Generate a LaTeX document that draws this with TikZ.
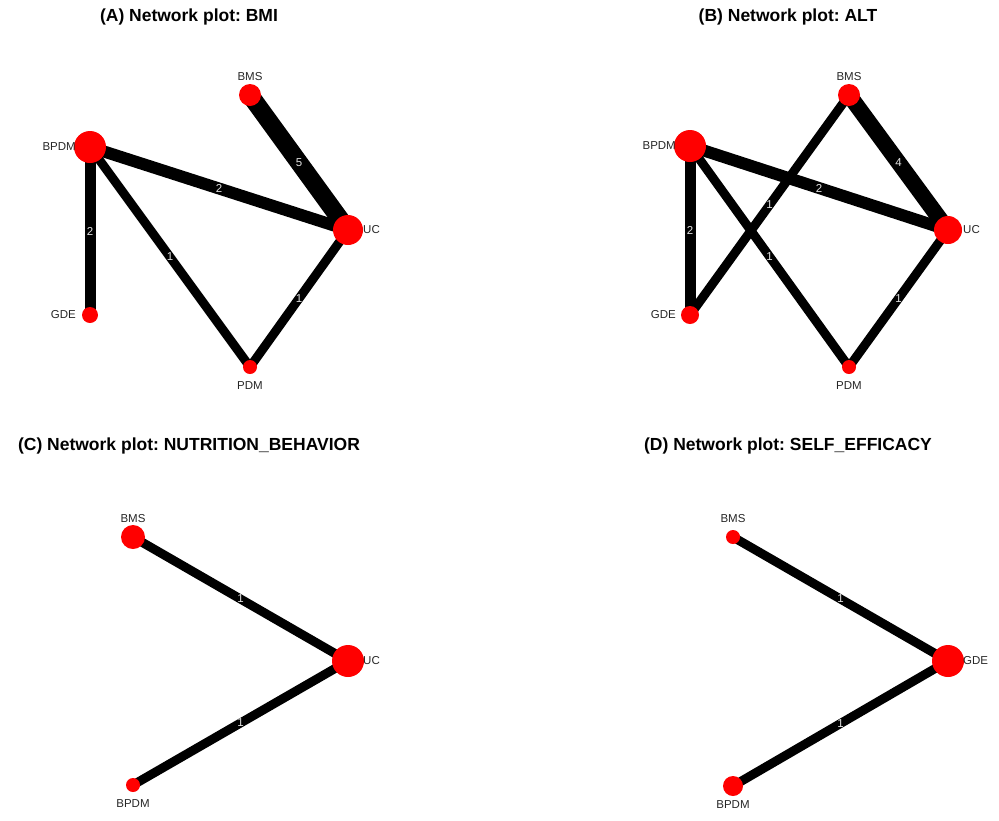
\documentclass[tikz,border=0pt]{standalone}
\usepackage{fontspec}
\setmainfont{Liberation Sans}
\usetikzlibrary{positioning, backgrounds}
\definecolor{trtred}{RGB}{255, 0, 0}
\definecolor{numgray}{RGB}{225, 225, 225}
\frenchspacing

\begin{document}
\begin{tikzpicture}[x=1pt, y=-1pt,
  trt/.style={circle, fill=trtred, inner sep=0pt},
  lbl/.style={inner sep=0pt, font=\fontsize{11.5}{13}\selectfont, text=black!85},
  ptitle/.style={inner sep=0pt, font=\fontsize{17.5}{20}\selectfont\bfseries},
  trial/.style={line width=#1, black},
  elab/.style={inner sep=0pt, font=\fontsize{11.5}{13}\selectfont, text=numgray}
]
  \useasboundingbox (0,0) rectangle (999,820);

  % (A) BMI
  \node[ptitle] (a-title) at (189,17) {(A) Network plot: BMI};
  \node[trt, minimum size=22pt] (a-bms) at (250,95) {};
  \node[trt, minimum size=32pt] (a-bpdm) at (90,147) {};
  \node[trt, minimum size=30pt] (a-uc) at (348,230) {};
  \node[trt, minimum size=16pt] (a-gde) at (90,315) {};
  \node[trt, minimum size=14pt] (a-pdm) at (250,367) {};
  \node[lbl, above=14pt of a-bms.center] (a-bms-t) {BMS};
  \node[lbl, left=14pt of a-bpdm.center] (a-bpdm-t) {BPDM};
  \node[lbl, right=15pt of a-uc.center] (a-uc-t) {UC};
  \node[lbl, left=14pt of a-gde.center] (a-gde-t) {GDE};
  \node[lbl, below=14pt of a-pdm.center] (a-pdm-t) {PDM};

  % (B) ALT
  \node[ptitle] (b-title) at (788,17) {(B) Network plot: ALT};
  \node[trt, minimum size=22pt] (b-bms) at (849,95) {};
  \node[trt, minimum size=32pt] (b-bpdm) at (690,146) {};
  \node[trt, minimum size=28pt] (b-uc) at (948,230) {};
  \node[trt, minimum size=18pt] (b-gde) at (690,315) {};
  \node[trt, minimum size=14pt] (b-pdm) at (849,367) {};
  \node[lbl, above=14pt of b-bms.center] (b-bms-t) {BMS};
  \node[lbl, left=14pt of b-bpdm.center] (b-bpdm-t) {BPDM};
  \node[lbl, right=15pt of b-uc.center] (b-uc-t) {UC};
  \node[lbl, left=14pt of b-gde.center] (b-gde-t) {GDE};
  \node[lbl, below=14pt of b-pdm.center] (b-pdm-t) {PDM};

  % (C) NUTRITION_BEHAVIOR
  \node[ptitle] (c-title) at (189,446) {(C) Network plot: NUTRITION\_BEHAVIOR};
  \node[trt, minimum size=24pt] (c-bms) at (133,537) {};
  \node[trt, minimum size=32pt] (c-uc) at (348,661) {};
  \node[trt, minimum size=14pt] (c-bpdm) at (133,785) {};
  \node[lbl, above=14pt of c-bms.center] (c-bms-t) {BMS};
  \node[lbl, right=15pt of c-uc.center] (c-uc-t) {UC};
  \node[lbl, below=14pt of c-bpdm.center] (c-bpdm-t) {BPDM};

  % (D) SELF_EFFICACY
  \node[ptitle] (d-title) at (788,446) {(D) Network plot: SELF\_EFFICACY};
  \node[trt, minimum size=14pt] (d-bms) at (733,537) {};
  \node[trt, minimum size=32pt] (d-gde) at (948,661) {};
  \node[trt, minimum size=20pt] (d-bpdm) at (733,786) {};
  \node[lbl, above=14pt of d-bms.center] (d-bms-t) {BMS};
  \node[lbl, right=15pt of d-gde.center] (d-gde-t) {GDE};
  \node[lbl, below=14pt of d-bpdm.center] (d-bpdm-t) {BPDM};

  % comparisons, under the treatment circles
  \begin{scope}[on background layer]
    \draw[trial=18pt] (a-bms.center) -- node[elab] (a-n1) {5} (a-uc.center);
    \draw[trial=12pt] (a-bpdm.center) -- node[elab] (a-n2) {2} (a-uc.center);
    \draw[trial=11pt] (a-bpdm.center) -- node[elab] (a-n3) {2} (a-gde.center);
    \draw[trial=9pt] (a-bpdm.center) -- node[elab] (a-n4) {1} (a-pdm.center);
    \draw[trial=9pt] (a-uc.center) -- node[elab] (a-n5) {1} (a-pdm.center);

    \draw[trial=16pt] (b-bms.center) -- node[elab] (b-n1) {4} (b-uc.center);
    \draw[trial=12pt] (b-bpdm.center) -- node[elab] (b-n2) {2} (b-uc.center);
    \draw[trial=11pt] (b-bpdm.center) -- node[elab] (b-n3) {2} (b-gde.center);
    \draw[trial=9pt] (b-gde.center) -- node[elab] (b-n4) {1} (b-bms.center);
    \draw[trial=9pt] (b-bpdm.center) -- node[elab] (b-n5) {1} (b-pdm.center);
    \draw[trial=9pt] (b-uc.center) -- node[elab] (b-n6) {1} (b-pdm.center);

    \draw[trial=9pt] (c-bms.center) -- node[elab] (c-n1) {1} (c-uc.center);
    \draw[trial=9pt] (c-bpdm.center) -- node[elab] (c-n2) {1} (c-uc.center);

    \draw[trial=9pt] (d-bms.center) -- node[elab] (d-n1) {1} (d-gde.center);
    \draw[trial=9pt] (d-bpdm.center) -- node[elab] (d-n2) {1} (d-gde.center);
  \end{scope}
\end{tikzpicture}
\end{document}
